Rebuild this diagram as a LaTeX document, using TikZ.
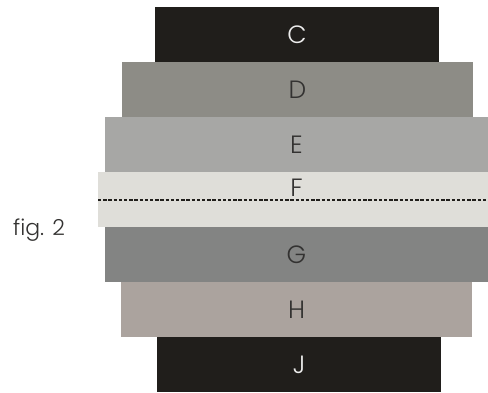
\documentclass[tikz,border=0pt]{standalone}
\usepackage{fontspec}
\setmainfont{Poppins}[UprightFont=* Light]
\definecolor{cC}{HTML}{201E1B}
\definecolor{cD}{HTML}{8D8C86}
\definecolor{cE}{HTML}{A7A7A5}
\definecolor{cF}{HTML}{DFDED9}
\definecolor{cG}{HTML}{838483}
\definecolor{cH}{HTML}{ABA39E}
\definecolor{cJ}{HTML}{201E1B}
\definecolor{txt}{HTML}{333231}
\definecolor{wtxt}{HTML}{EDEDED}
\begin{document}
\begin{tikzpicture}[x=1pt,y=-1pt,
  band/.style={rectangle,inner sep=0pt,draw=none,minimum height=55pt,font=\fontsize{25}{25}\selectfont,text=txt},
  lbl/.style={inner sep=0pt,font=\fontsize{25}{25}\selectfont,text=txt}]
\useasboundingbox[fill=white] (0,0) rectangle (488,392);
\node[band,fill=cC,minimum width=284pt,text=wtxt] (C) at (297,34.5) {C};
\node[band,fill=cD,minimum width=351pt] (D) at (297.5,89.5) {D};
\node[band,fill=cE,minimum width=383pt] (E) at (296.5,144.5) {E};
\node[band,fill=cF,minimum width=390pt] (F) at (293,199.5) {};
\node[band,fill=cG,minimum width=383pt] (G) at (296.5,254.5) {G};
\node[band,fill=cH,minimum width=351pt] (H) at (296.5,309.5) {H};
\node[band,fill=cJ,minimum width=284pt,text=wtxt] (J) at (299,364.5) {J};
\node[lbl] (Flbl) at (296.5,187.5) {F};
\coordinate (dl) at (98,200);
\coordinate (dr) at (488,200);
\draw[line width=1.3pt,dash pattern=on 3.4pt off 1.8pt,color=cC] (dl) -- (dr);
\node[inner sep=0pt,anchor=base west,font=\fontsize{22}{22}\selectfont,text=txt] (fig) at (13,235) {fig. 2};
\end{tikzpicture}
\end{document}
